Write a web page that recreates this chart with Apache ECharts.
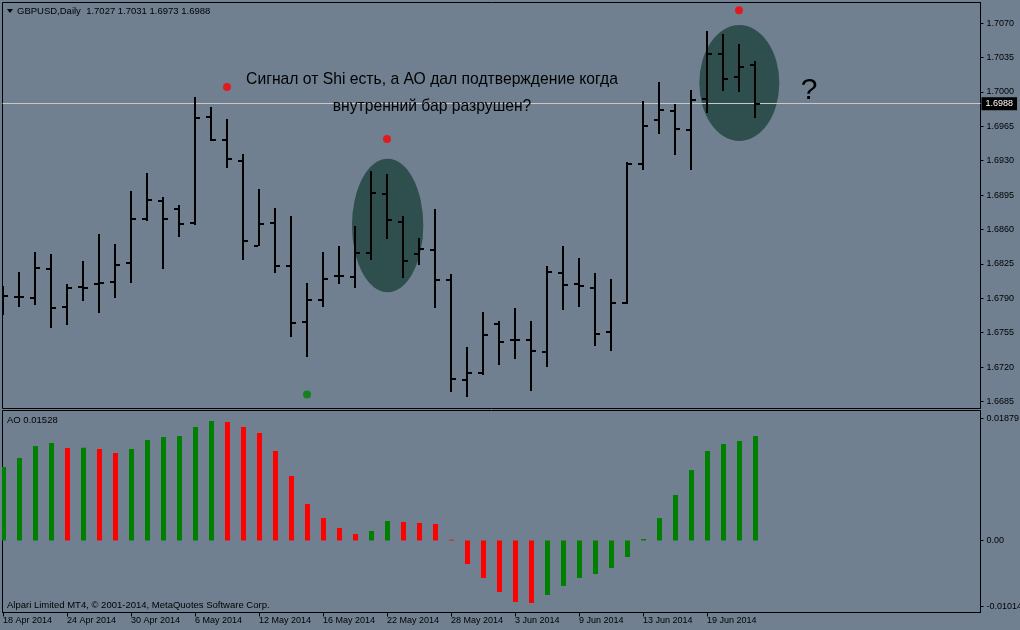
<!DOCTYPE html>
<html>
<head>
<meta charset="utf-8">
<title>GBPUSD Daily</title>
<script src="https://cdn.jsdelivr.net/npm/echarts@6/dist/echarts.min.js"></script>
<style>
  html, body { margin: 0; padding: 0; background: #708090; }
  #chart { width: 1020px; height: 630px; }
</style>
</head>
<body>
<div id="chart"></div>
<script>
const dates = ['18 Apr 2014', '21 Apr 2014', '22 Apr 2014', '23 Apr 2014', '24 Apr 2014', '25 Apr 2014', '28 Apr 2014', '29 Apr 2014',
  '30 Apr 2014', '1 May 2014', '2 May 2014', '5 May 2014', '6 May 2014', '7 May 2014', '8 May 2014', '9 May 2014',
  '12 May 2014', '13 May 2014', '14 May 2014', '15 May 2014', '16 May 2014', '19 May 2014', '20 May 2014', '21 May 2014',
  '22 May 2014', '23 May 2014', '26 May 2014', '27 May 2014', '28 May 2014', '29 May 2014', '30 May 2014', '2 Jun 2014',
  '3 Jun 2014', '4 Jun 2014', '5 Jun 2014', '6 Jun 2014', '9 Jun 2014', '10 Jun 2014', '11 Jun 2014', '12 Jun 2014',
  '13 Jun 2014', '16 Jun 2014', '17 Jun 2014', '18 Jun 2014', '19 Jun 2014', '20 Jun 2014', '23 Jun 2014', '24 Jun 2014'];

const opens = [1.6788, 1.6791, 1.6790, 1.6820, 1.6781, 1.6801, 1.6804, 1.6807, 1.6826, 1.6871, 1.6889, 1.6881, 1.6867, 1.6974, 1.6951, 1.6930,
  1.6843, 1.6867, 1.6823, 1.6766, 1.6788, 1.6813, 1.6812, 1.6836, 1.6896, 1.6868, 1.6835, 1.6839, 1.6809, 1.6707, 1.6714, 1.6764,
  1.6747, 1.6747, 1.6735, 1.6816, 1.6804, 1.6800, 1.6756, 1.6785, 1.6927, 1.6971, 1.6981, 1.6961, 1.6993, 1.7039, 1.7015, 1.7027];
const highs = [1.6802, 1.6817, 1.6837, 1.6835, 1.6804, 1.6828, 1.6855, 1.6845, 1.6899, 1.6917, 1.6893, 1.6885, 1.6995, 1.6985, 1.6972, 1.6937,
  1.6901, 1.6882, 1.6874, 1.6805, 1.6837, 1.6843, 1.6864, 1.6919, 1.6916, 1.6874, 1.6851, 1.6881, 1.6815, 1.6740, 1.6776, 1.6767,
  1.6780, 1.6767, 1.6823, 1.6843, 1.6831, 1.6816, 1.6810, 1.6929, 1.6991, 1.7010, 1.6988, 1.7002, 1.7062, 1.7059, 1.7049, 1.7031];
const lows = [1.6773, 1.6781, 1.6783, 1.6760, 1.6763, 1.6787, 1.6775, 1.6790, 1.6806, 1.6869, 1.6820, 1.6852, 1.6865, 1.6950, 1.6922, 1.6829,
  1.6843, 1.6816, 1.6751, 1.6730, 1.6781, 1.6804, 1.6800, 1.6829, 1.6850, 1.6811, 1.6824, 1.6780, 1.6695, 1.6690, 1.6712, 1.6722,
  1.6728, 1.6696, 1.6720, 1.6778, 1.6781, 1.6741, 1.6736, 1.6784, 1.6920, 1.6957, 1.6936, 1.6920, 1.6978, 1.7001, 1.7000, 1.6973];
const closes = [1.6792, 1.6791, 1.6821, 1.6780, 1.6800, 1.6800, 1.6805, 1.6824, 1.6871, 1.6890, 1.6871, 1.6866, 1.6973, 1.6951, 1.6932, 1.6848,
  1.6866, 1.6823, 1.6765, 1.6788, 1.6810, 1.6813, 1.6836, 1.6897, 1.6870, 1.6828, 1.6840, 1.6809, 1.6708, 1.6714, 1.6753, 1.6745,
  1.6747, 1.6736, 1.6817, 1.6803, 1.6802, 1.6754, 1.6785, 1.6927, 1.6965, 1.6982, 1.6962, 1.6992, 1.7038, 1.7013, 1.7025, 1.6988];

const aoValues = [0.01132, 0.0127, 0.01455, 0.01501, 0.01424, 0.01429, 0.01409, 0.01347, 0.01409, 0.01547, 0.01594, 0.01609,
  0.01748, 0.0184, 0.01824, 0.01748, 0.01655, 0.01378, 0.00993, 0.00562, 0.00346, 0.00192, 0.001, 0.00146,
  0.003, 0.00285, 0.00269, 0.00254, 0.00012, -0.00362, -0.00577, -0.00793, -0.00947, -0.00962, -0.00839, -0.007,
  -0.00577, -0.00516, -0.00423, -0.00254, 0.00023, 0.00346, 0.007, 0.01085, 0.01378, 0.01486, 0.01532, 0.01609];

const priceTicks = [1.6685, 1.6720, 1.6755, 1.6790, 1.6825, 1.6860, 1.6895, 1.6930, 1.6965, 1.7000, 1.7035, 1.7070];
const aoTicks = [0.01879, 0, -0.01014];
const aoCurrent = 0.01528;

// fractal dots [bar index, price]
const upSignals = [[14, 1.7005], [24, 1.6952], [46, 1.7083]];
const downSignals = [[19, 1.6692]];
// highlighted zones: centre [bar index, price] and half-spans [bars, price]
const zoneCentres = [[24.04, 1.6864], [46.02, 1.7009]];
const zoneSpans = [[2.23, 0.0068], [2.5, 0.0059]];

const FONT = 'Liberation Sans';
const X_MIN = -0.03125, X_MAX = 61.09375;
const last = closes.length - 1;
const dateTicks = dates.map((d, i) => i).filter(i => i % 4 === 0);

let MyEcharts = echarts.init(document.getElementById('chart'));

const ohlcData = dates.map((d, i) => [i, opens[i], highs[i], lows[i], closes[i]]);
const aoData = aoValues.map((v, i) => [i, v, (i === 0 || v > aoValues[i - 1]) ? 1 : 0]);
const zoneData = zoneCentres.map((c, i) => [c[0], c[1], zoneSpans[i][0], zoneSpans[i][1]]);

function renderBar(params, api) {
  const i = api.value(0);
  const o = api.coord([i, api.value(1)]);
  const h = api.coord([i, api.value(2)]);
  const l = api.coord([i, api.value(3)]);
  const c = api.coord([i, api.value(4)]);
  const x = Math.round(h[0]);
  const yo = Math.round(o[1]), yc = Math.round(c[1]);
  const fill = { fill: '#000' };
  return {
    type: 'group',
    children: [
      { type: 'rect', shape: { x: x - 1, y: Math.round(h[1]), width: 2, height: Math.max(2, Math.round(l[1]) - Math.round(h[1])) }, style: fill },
      { type: 'rect', shape: { x: x - 5, y: yo - 1, width: 4, height: 2 }, style: fill },
      { type: 'rect', shape: { x: x + 1, y: yc - 1, width: 4, height: 2 }, style: fill }
    ]
  };
}

function renderAo(params, api) {
  const i = api.value(0);
  const top = api.coord([i, api.value(1)]);
  const base = api.coord([i, 0]);
  const x = Math.round(top[0]) - 2;
  const y1 = Math.min(top[1], base[1]);
  return {
    type: 'rect',
    shape: { x: x, y: y1, width: 5, height: Math.abs(top[1] - base[1]) },
    style: { fill: api.value(2) ? '#008000' : '#ff0000' }
  };
}

function renderZone(params, api) {
  const p = api.coord([api.value(0), api.value(1)]);
  const s = api.size([api.value(2), api.value(3)]);
  return {
    type: 'circle',
    x: p[0],
    y: p[1],
    scaleX: s[0] / s[1],
    shape: { cx: 0, cy: 0, r: s[1] },
    style: { fill: '#2f4f4f' }
  };
}

let option = {
  animation: false,
  backgroundColor: '#708090',
  grid: [
    { left: 2.5, top: 2.5, width: 978, height: 406, show: true, borderColor: '#000', borderWidth: 1, backgroundColor: 'transparent', outerBoundsMode: 'none' },
    { left: 2.5, top: 410.5, width: 978, height: 202, show: true, borderColor: '#000', borderWidth: 1, backgroundColor: 'transparent', outerBoundsMode: 'none' }
  ],
  xAxis: [
    { type: 'value', gridIndex: 0, min: X_MIN, max: X_MAX, show: false, axisLine: { onZero: false } },
    {
      type: 'value', gridIndex: 1, min: X_MIN, max: X_MAX, position: 'bottom',
      splitLine: { show: false },
      axisLine: { show: true, onZero: false, lineStyle: { color: '#000' } },
      axisTick: { show: true, length: 4, customValues: dateTicks, lineStyle: { color: '#000' } },
      axisLabel: {
        customValues: dateTicks, margin: 4, align: 'left',
        fontFamily: FONT, fontSize: 9, color: '#000',
        formatter: v => dates[Math.round(v)] || ''
      }
    }
  ],
  yAxis: [
    {
      type: 'value', gridIndex: 0, position: 'right', min: 1.66778, max: 1.70909,
      splitLine: { show: false },
      axisLine: { show: true, onZero: false, lineStyle: { color: '#000' } },
      axisTick: { show: true, length: 3, customValues: priceTicks, lineStyle: { color: '#000' } },
      axisLabel: { customValues: priceTicks, margin: 6, fontFamily: FONT, fontSize: 9, color: '#000', formatter: v => v.toFixed(4) }
    },
    {
      type: 'value', gridIndex: 1, position: 'right', min: -0.011085, max: 0.020015,
      splitLine: { show: false },
      axisLine: { show: true, onZero: false, lineStyle: { color: '#000' } },
      axisTick: { show: true, length: 3, customValues: aoTicks, lineStyle: { color: '#000' } },
      axisLabel: { customValues: aoTicks, margin: 6, fontFamily: FONT, fontSize: 9, color: '#000', formatter: v => v === 0 ? '0.00' : v.toFixed(5) }
    }
  ],
  series: [
    {
      type: 'custom', xAxisIndex: 0, yAxisIndex: 0, z: 1, clip: true, silent: true,
      renderItem: renderZone, data: zoneData
    },
    {
      type: 'custom', xAxisIndex: 0, yAxisIndex: 0, z: 3, clip: true,
      renderItem: renderBar, data: ohlcData
    },
    {
      type: 'scatter', xAxisIndex: 0, yAxisIndex: 0, z: 4,
      symbol: 'circle', symbolSize: 8, itemStyle: { color: '#ff0000' }, data: upSignals,
      markLine: {
        silent: true, symbol: 'none', z: 2, precision: 4,
        lineStyle: { color: '#c8c8c8', width: 1, type: 'solid' },
        label: {
          show: true, position: 'end', distance: 1,
          formatter: closes[last].toFixed(4),
          backgroundColor: '#000', color: '#fff', padding: [2, 4],
          fontFamily: FONT, fontSize: 9
        },
        data: [{ yAxis: closes[last] }]
      }
    },
    {
      type: 'scatter', xAxisIndex: 0, yAxisIndex: 0, z: 4,
      symbol: 'circle', symbolSize: 8, itemStyle: { color: '#008000' }, data: downSignals
    },
    {
      type: 'custom', xAxisIndex: 1, yAxisIndex: 1, z: 3, clip: true,
      renderItem: renderAo, data: aoData
    }
  ],
  graphic: [
    { type: 'polygon', shape: { points: [[7, 9], [13, 9], [10, 13]] }, style: { fill: '#000' } },
    {
      type: 'text', x: 17, y: 11,
      style: {
        text: 'GBPUSD,Daily  ' + [opens[last], highs[last], lows[last], closes[last]].map(v => v.toFixed(4)).join(' '),
        fontFamily: FONT, fontSize: 9.5, verticalAlign: 'middle', fill: '#000'
      }
    },
    {
      type: 'text', x: 7, y: 420,
      style: { text: 'AO ' + aoCurrent.toFixed(5), fontFamily: FONT, fontSize: 9.5, fill: '#000', verticalAlign: 'middle' }
    },
    {
      type: 'text', x: 7, y: 605,
      style: { text: 'Alpari Limited MT4, © 2001-2014, MetaQuotes Software Corp.', fontFamily: FONT, fontSize: 9.5, fill: '#000', verticalAlign: 'middle' }
    },
    {
      type: 'text', x: 432, y: 80, z: 10,
      style: { text: 'Сигнал от Shi есть, а АО дал подтверждение когда', fontFamily: FONT, fontSize: 15.7, fill: '#000', align: 'center', verticalAlign: 'middle' }
    },
    {
      type: 'text', x: 432, y: 107, z: 10,
      style: { text: 'внутренний бар разрушен?', fontFamily: FONT, fontSize: 15.7, fill: '#000', align: 'center', verticalAlign: 'middle' }
    },
    {
      type: 'text', x: 809, y: 91, z: 10,
      style: { text: '?', fontFamily: FONT, fontSize: 30, fill: '#000', align: 'center', verticalAlign: 'middle' }
    }
  ]
};

if (MyEcharts) {
  MyEcharts.setOption(option);
}
window.addEventListener('resize', () => {
  MyEcharts.resize();
});
</script>
</body>
</html>
